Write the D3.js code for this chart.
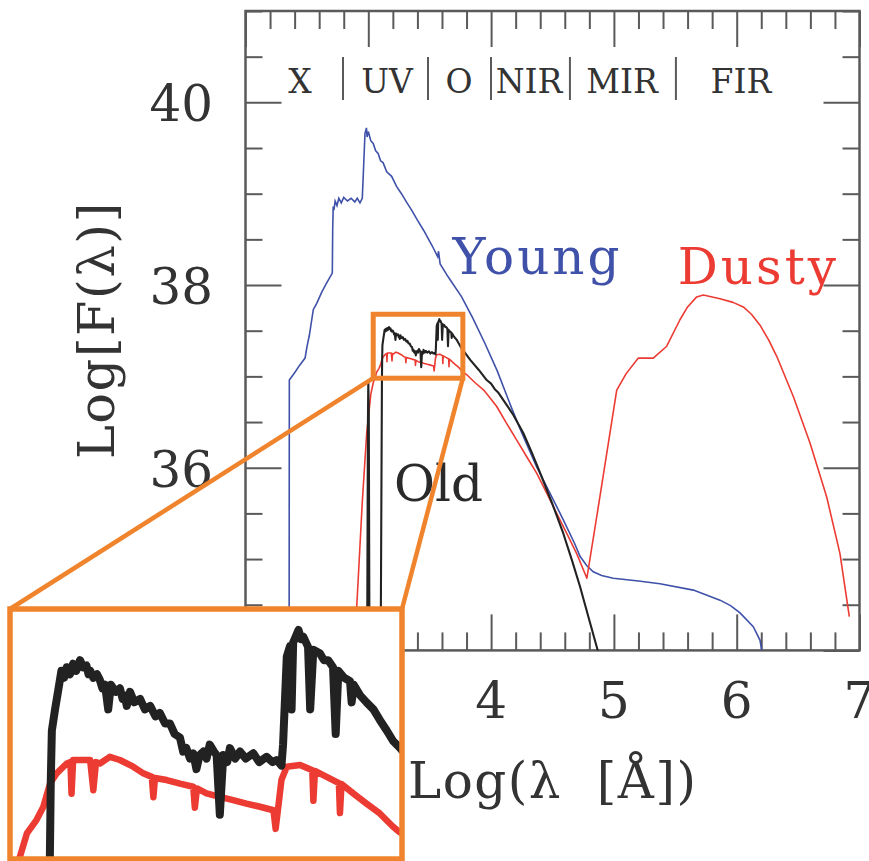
<!DOCTYPE html>
<html><head><meta charset="utf-8">
<script src="https://cdn.jsdelivr.net/npm/d3@7"></script>
<style>html,body{margin:0;padding:0;background:#fff;} svg{display:block;}</style>
</head><body>
<script>
// ---------- data (log lambda [A], log F) ----------
const young = [[2.355,33.8],[2.357,36.96],[2.40,37.04],[2.44,37.12],[2.485,37.2],[2.50,37.32],[2.52,37.45],[2.552,37.73],[2.58,37.8],[2.62,37.92],[2.66,38.02],[2.707,38.13],[2.710,38.6],[2.714,38.86],[2.72,38.82],[2.73,38.92],[2.745,38.87],[2.76,38.95],[2.78,38.9],[2.80,38.96],[2.83,38.92],[2.86,38.95],[2.89,38.91],[2.91,38.95],[2.932,38.9],[2.951,38.95],[2.962,39.3],[2.973,39.66],[2.985,39.72],[2.99,39.62],[3.0,39.68],[3.02,39.58],[3.04,39.55],[3.06,39.47],[3.08,39.44],[3.10,39.36],[3.12,39.34],[3.15,39.24],[3.19,39.19],[3.23,39.08],[3.27,39.0],[3.31,38.91],[3.353,38.82],[3.40,38.71],[3.45,38.6],[3.52,38.43],[3.565,38.31],[3.572,38.37],[3.585,38.23],[3.65,38.09],[3.76,37.87],[3.85,37.64],[3.95,37.36],[4.05,37.06],[4.168,36.65],[4.25,36.38],[4.371,36.01],[4.48,35.72],[4.588,35.43],[4.68,35.17],[4.724,35.03],[4.778,34.93],[4.832,34.86],[4.9,34.82],[4.995,34.79],[5.2,34.76],[5.375,34.73],[5.647,34.66],[5.864,34.55],[5.95,34.49],[6.027,34.41],[6.135,34.26],[6.19,34.11],[6.21,33.95]];

const oldStart = [[2.99,33.8],[2.997,36.5],[3.0,36.95],[3.004,36.6],[3.01,33.8],[3.10,33.8]];
const oldBox = [[3.111,36.95],[3.113,37.20],[3.115,37.34],[3.121,37.40],[3.127,37.455],[3.133,37.51],[3.138,37.49],[3.143,37.52],[3.149,37.50],[3.155,37.53],[3.161,37.51],[3.168,37.54],[3.174,37.52],[3.18,37.525],[3.184,37.50],[3.187,37.51],[3.193,37.49],[3.20,37.50],[3.205,37.485],[3.21,37.46],[3.215,37.47],[3.221,37.40],[3.226,37.47],[3.235,37.45],[3.243,37.46],[3.248,37.43],[3.252,37.44],[3.256,37.41],[3.262,37.45],[3.27,37.42],[3.281,37.43],[3.29,37.40],[3.30,37.41],[3.31,37.38],[3.318,37.39],[3.328,37.36],[3.337,37.36],[3.346,37.33],[3.356,37.32],[3.362,37.28],[3.368,37.29],[3.375,37.26],[3.381,37.275],[3.387,37.23],[3.393,37.27],[3.40,37.28],[3.406,37.26],[3.412,37.30],[3.42,37.28],[3.425,37.27],[3.431,37.10],[3.4375,37.27],[3.445,37.25],[3.45,37.29],[3.46,37.26],[3.469,37.28],[3.48,37.26],[3.494,37.275],[3.505,37.25],[3.519,37.265],[3.53,37.25],[3.538,37.256],[3.547,37.24],[3.550,37.30],[3.557,37.55],[3.563,37.58],[3.566,37.40],[3.569,37.59],[3.579,37.626],[3.584,37.60],[3.588,37.607],[3.597,37.578],[3.601,37.40],[3.607,37.57],[3.619,37.56],[3.627,37.54],[3.635,37.54],[3.644,37.52],[3.649,37.33],[3.654,37.51],[3.665,37.49],[3.676,37.48],[3.679,37.42],[3.683,37.47],[3.695,37.44],[3.707,37.42],[3.72,37.40],[3.732,37.37],[3.745,37.34],[3.757,37.31],[3.77,37.29]];
const oldEnd = [[3.83,37.18],[3.90,37.07],[3.964,36.96],[4.0,36.92],[4.03,36.86],[4.06,36.82],[4.1,36.74],[4.18,36.58],[4.262,36.38],[4.33,36.17],[4.4,35.94],[4.5,35.6],[4.588,35.28],[4.66,34.98],[4.724,34.7],[4.8,34.33],[4.86,34.04],[4.9,33.85]];

const dustyStart = [[2.88,33.8],[2.906,34.48],[2.95,35.6],[2.987,36.38],[3.02,36.8],[3.04,36.93]];
const dustyBox = [[3.045,36.95],[3.055,36.981],[3.068,37.047],[3.086,37.085],[3.099,37.123],[3.1115,37.189],[3.124,37.218],[3.143,37.246],[3.150,37.25],[3.152,37.16],[3.155,37.256],[3.168,37.256],[3.187,37.256],[3.193,37.17],[3.198,37.25],[3.2055,37.246],[3.224,37.265],[3.243,37.256],[3.268,37.237],[3.287,37.218],[3.303,37.208],[3.306,37.15],[3.309,37.205],[3.331,37.199],[3.356,37.189],[3.381,37.18],[3.384,37.12],[3.388,37.175],[3.406,37.161],[3.431,37.151],[3.456,37.142],[3.481,37.132],[3.5065,37.123],[3.532,37.113],[3.536,37.06],[3.540,37.11],[3.547,37.20],[3.557,37.237],[3.582,37.242],[3.605,37.227],[3.607,37.14],[3.61,37.225],[3.632,37.208],[3.655,37.19],[3.657,37.105],[3.66,37.188],[3.682,37.161],[3.707,37.132],[3.732,37.104],[3.757,37.066],[3.77,37.05]];
const dustyEnd = [[3.80,37.02],[3.87,36.93],[3.94,36.85],[4.0,36.75],[4.046,36.67],[4.12,36.5],[4.21,36.3],[4.29,36.12],[4.371,35.94],[4.45,35.73],[4.534,35.5],[4.62,35.27],[4.697,35.06],[4.78,34.79],[4.90,35.8],[5.023,36.85],[5.10,37.03],[5.199,37.2],[5.321,37.2],[5.43,37.33],[5.538,37.62],[5.60,37.76],[5.674,37.87],[5.728,37.89],[5.864,37.85],[5.97,37.81],[6.054,37.76],[6.12,37.68],[6.19,37.56],[6.26,37.4],[6.326,37.22],[6.461,36.78],[6.597,36.27],[6.733,35.68],[6.841,35.06],[6.917,34.37]];

const bandNames = ["X","UV","O","NIR","MIR","FIR"];
const bandCenters = [2.444,3.152,3.739,4.309,5.066,6.035];
const bandEdges = [2.794,3.486,3.999,4.642,5.505];

const xMajorTicks = [2,3,4,5,6,7];
const xTickLabels = [4,5,6,7];
const yMajorTicks = [34,36,38,40];
const yTickLabels = [36,38,40];
const zoomBoxX = [3.04,3.77];
const zoomBoxY = [36.98,37.68];

const seriesLabels = [{t:"Young",x:3.685,y:38.12,c:"#3f51a8"},{t:"Dusty",x:5.52,y:38.01,c:"#ec3b32"},{t:"Old",x:3.21,y:35.64,c:"#2a2a2a"}];

// ---------- layout ----------
const W=869,H=861;
const L=245.5,R=859.5,T=11,B=650.4;
const font="'DejaVu Serif', serif";
const axisCol="#5a5a5a", textCol="#333";
const BLUE="#3f51a8", RED="#ec3b32", BLACK="#222", ORANGE="#f0842c";

const svg=d3.select("body").append("svg").attr("width",W).attr("height",H);
const x=d3.scaleLinear().domain([2,7]).range([L,R]);
const y=d3.scaleLinear().domain([34,41]).range([B,T]);

svg.append("defs").append("clipPath").attr("id","plotclip")
  .append("rect").attr("x",L).attr("y",T).attr("width",R-L).attr("height",B-T);

// ticks
const xMinor=d3.range(2,7.0001,0.2).map(v=>+v.toFixed(1)).filter(v=>!xMajorTicks.includes(v));
const yMinor=d3.range(34,41.0001,0.5).filter(v=>!yMajorTicks.includes(v));
function ax(gen,scale,vals,size,tr){
  const g=svg.append("g").attr("transform",tr)
   .call(gen(scale).tickValues(vals).tickSize(size).tickFormat(""));
  g.select(".domain").remove();
  g.selectAll("line").attr("stroke",axisCol).attr("stroke-width",2);
}
ax(d3.axisBottom,x,xMinor,-18,`translate(0,${B})`);
ax(d3.axisBottom,x,xMajorTicks,-36,`translate(0,${B})`);
ax(d3.axisTop,x,xMinor,-18,`translate(0,${T})`);
ax(d3.axisTop,x,xMajorTicks,-36,`translate(0,${T})`);
ax(d3.axisLeft,y,yMinor,-17,`translate(${L},0)`);
ax(d3.axisLeft,y,yMajorTicks,-36,`translate(${L},0)`);
ax(d3.axisRight,y,yMinor,-17,`translate(${R},0)`);
ax(d3.axisRight,y,yMajorTicks,-36,`translate(${R},0)`);

svg.append("rect").attr("x",L).attr("y",T).attr("width",R-L).attr("height",B-T)
  .attr("fill","none").attr("stroke",axisCol).attr("stroke-width",2.5);

// tick labels
svg.append("g").selectAll("text").data(xTickLabels).join("text")
  .attr("x",d=>x(d)).attr("y",718).attr("text-anchor","middle")
  .attr("font-family",font).attr("font-size",50).attr("fill",textCol).text(d=>d);
svg.append("g").selectAll("text").data(yTickLabels).join("text")
  .attr("x",213).attr("y",d=>y(d)+19).attr("text-anchor","end")
  .attr("font-family",font).attr("font-size",50).attr("fill",textCol).text(d=>d);

// axis titles
svg.append("text").attr("x",408).attr("y",798).attr("font-family",font).attr("font-size",50)
  .attr("letter-spacing",1.5).attr("fill",textCol).style("white-space","pre").text("Log(λ  [Å])");
svg.append("text").attr("transform","translate(114,330) rotate(-90)").attr("text-anchor","middle")
  .attr("font-family",font).attr("font-size",51).attr("letter-spacing",1.5).attr("fill",textCol).text("Log[F(λ)]");

// band labels
svg.append("g").selectAll("text").data(bandNames).join("text")
  .attr("x",(d,i)=>x(bandCenters[i])).attr("y",93).attr("text-anchor","middle")
  .attr("font-family",font).attr("font-size",33).attr("fill",textCol).text(d=>d);
svg.append("g").selectAll("line").data(bandEdges).join("line")
  .attr("x1",d=>x(d)).attr("x2",d=>x(d)).attr("y1",57).attr("y2",100)
  .attr("stroke",axisCol).attr("stroke-width",2);

// curves
const line=d3.line().x(d=>x(d[0])).y(d=>y(d[1]));
const plot=svg.append("g").attr("clip-path","url(#plotclip)");
plot.append("path").datum(young).attr("d",line).attr("fill","none").attr("stroke",BLUE).attr("stroke-width",1.6);
plot.append("path").datum(dustyStart.concat(dustyBox,dustyEnd)).attr("d",line).attr("fill","none").attr("stroke",RED).attr("stroke-width",1.6).attr("stroke-linejoin","round");
plot.append("path").datum(oldStart.concat(oldBox,oldEnd)).attr("d",line).attr("fill","none").attr("stroke",BLACK).attr("stroke-width",2.1).attr("stroke-linejoin","round");

// series labels
svg.append("g").selectAll("text").data(seriesLabels).join("text")
  .attr("x",d=>x(d.x)).attr("y",d=>y(d.y)).attr("font-family",font).attr("font-size",50)
  .attr("fill",d=>d.c).attr("letter-spacing",d=>d.t==="Old"?0:3).text(d=>d.t);

// inset
const IL=12,IR=400,IT=611,IB=857;
const xi=d3.scaleLinear().domain(zoomBoxX).range([IL,IR]);
const yi=d3.scaleLinear().domain(zoomBoxY).range([IB,IT]);
const bx0=x(zoomBoxX[0]),bx1=x(zoomBoxX[1]),by0=y(zoomBoxY[1]),by1=y(zoomBoxY[0]);
svg.append("line").attr("x1",bx0).attr("y1",by1).attr("x2",IL-2).attr("y2",IT-2).attr("stroke",ORANGE).attr("stroke-width",4.5);
svg.append("line").attr("x1",bx1).attr("y1",by1).attr("x2",IR+2).attr("y2",IT-2).attr("stroke",ORANGE).attr("stroke-width",4.5);
svg.append("rect").attr("x",bx0).attr("y",by0).attr("width",bx1-bx0).attr("height",by1-by0)
  .attr("fill","none").attr("stroke",ORANGE).attr("stroke-width",5);

svg.select("defs").append("clipPath").attr("id","insetclip")
  .append("rect").attr("x",IL).attr("y",IT).attr("width",IR-IL).attr("height",IB-IT);
svg.append("rect").attr("x",IL).attr("y",IT).attr("width",IR-IL).attr("height",IB-IT).attr("fill","#fff");
const iline=d3.line().x(d=>xi(d[0])).y(d=>yi(d[1]));
const ig=svg.append("g").attr("clip-path","url(#insetclip)");
ig.append("path").datum(dustyStart.concat(dustyBox,dustyEnd)).attr("d",iline).attr("fill","none").attr("stroke",RED).attr("stroke-width",6.5).attr("stroke-linejoin","round");
ig.append("path").datum(oldStart.concat(oldBox,oldEnd)).attr("d",iline).attr("fill","none").attr("stroke",BLACK).attr("stroke-width",8).attr("stroke-linejoin","round");
svg.append("rect").attr("x",IL-2).attr("y",IT-2).attr("width",IR-IL+4).attr("height",IB-IT+4)
  .attr("fill","none").attr("stroke",ORANGE).attr("stroke-width",5.5);
</script>
</body></html>
